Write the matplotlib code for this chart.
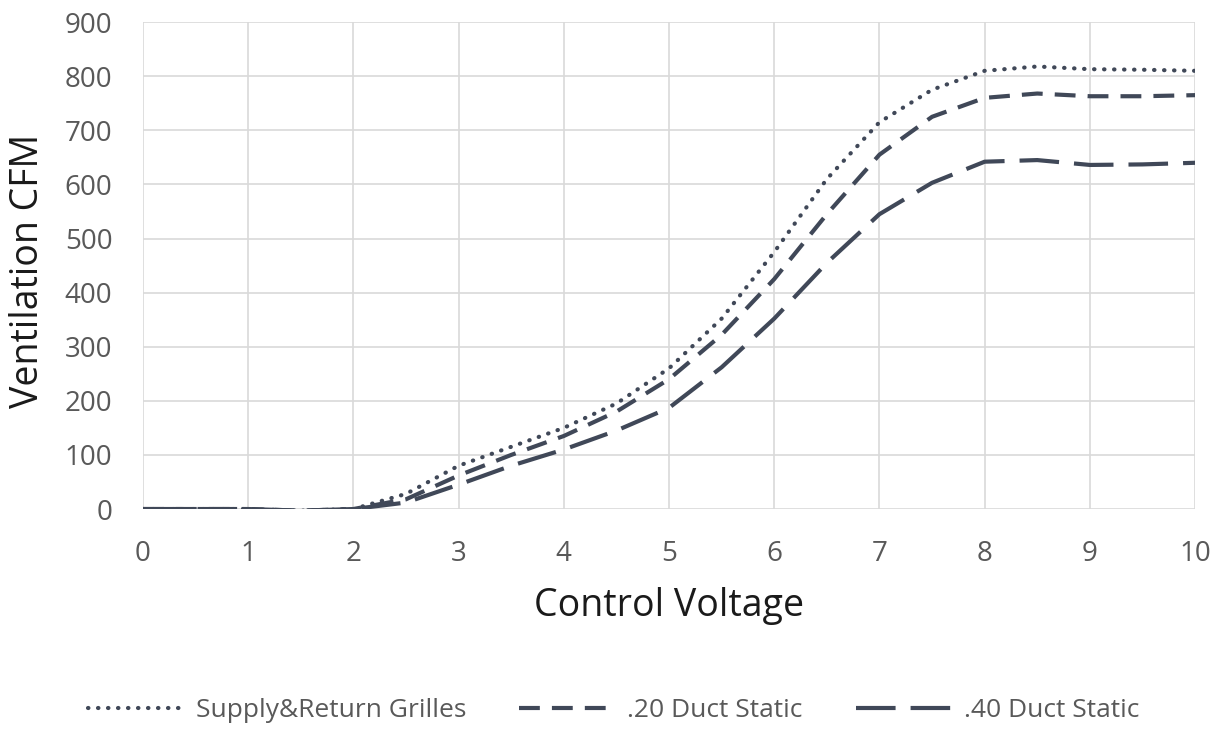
import matplotlib.pyplot as plt

# ── data ────────────────────────────────────────────────────────────────────
voltage = [0, 0.5, 1, 1.5, 2, 2.5, 3, 3.5, 4, 4.5, 5,
           5.5, 6, 6.5, 7, 7.5, 8, 8.5, 9, 9.5, 10]
grilles = [0, 0, 0, -3, 0, 28, 80, 115, 150, 195, 260,
           352, 475, 610, 715, 775, 810, 818, 813, 812, 810]
duct_20 = [0, 0, 0, -3, 0, 18, 62, 100, 135, 180, 240,
           322, 425, 545, 655, 725, 760, 768, 763, 763, 765]
duct_40 = [0, 0, 0, -3, 0, 12, 45, 80, 110, 145, 187,
           262, 352, 455, 545, 603, 642, 645, 636, 637, 640]

labels = ["Supply&Return Grilles", ".20 Duct Static", ".40 Duct Static"]

LINE = "#404858"
TICK = "#595959"

plt.rcParams["font.family"] = ["Open Sans", "DejaVu Sans"]

fig = plt.figure(figsize=(12.27, 7.30), dpi=100)
ax = fig.add_axes([0.1165, 0.3027, 0.8575, 0.667])

lw = 3.0
ax.plot(voltage, grilles, color=LINE, linewidth=lw, linestyle=(0, (0.1, 2.3)),
        dash_capstyle="round", label=labels[0])
ax.plot(voltage, duct_20, color=LINE, linewidth=lw, linestyle=(0, (5.0, 2.9)),
        label=labels[1])
ax.plot(voltage, duct_40, color=LINE, linewidth=lw, linestyle=(0, (9.5, 3.6)),
        label=labels[2])

ax.set_xlim(0, 10)
ax.set_ylim(0, 900)
ax.set_xticks(range(0, 11))
ax.set_yticks(range(0, 901, 100))
ax.grid(True, color="#d9d9d9", linewidth=1.2)
ax.set_axisbelow(True)
for s in ax.spines.values():
    s.set_visible(False)
ax.tick_params(length=0, labelsize=20, labelcolor=TICK)
ax.tick_params(axis="x", pad=22)
ax.tick_params(axis="y", pad=22)

ax.set_xlabel("Control Voltage", fontsize=27, color="#1a1a1a")
ax.set_ylabel("Ventilation CFM", fontsize=27, color="#1a1a1a")
ax.xaxis.label.set_va("center")
ax.yaxis.label.set_va("center")
ax.xaxis.set_label_coords(0.5, -0.2)
ax.yaxis.set_label_coords(-0.109, 0.49)

fig.legend(loc="center", bbox_to_anchor=(0.5, 0.027), ncol=3, frameon=False,
           fontsize=19, labelcolor=TICK, handlelength=3.6, columnspacing=2.0,
           handletextpad=0.5)

plt.savefig("out.png", dpi=100)
plt.close()
